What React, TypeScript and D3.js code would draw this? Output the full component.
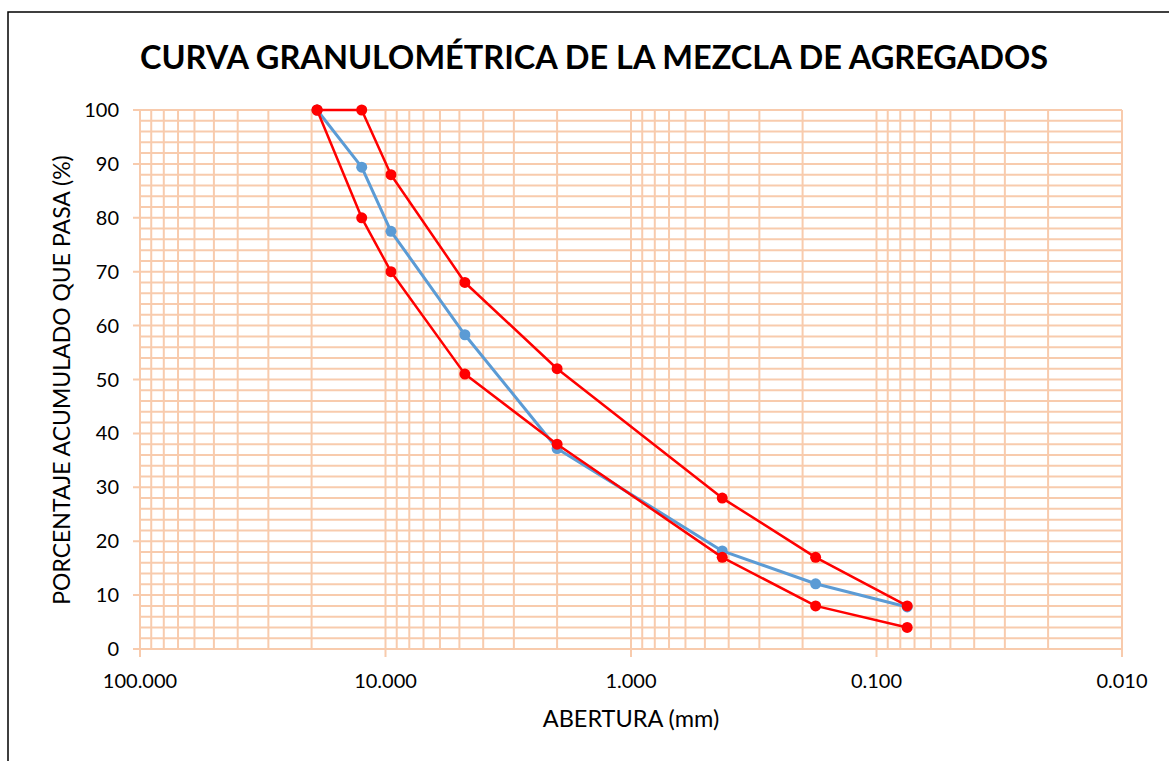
import React from "react";
import * as d3 from "d3";

const sieves = [19, 12.5, 9.5, 4.75, 2.0, 0.425, 0.177, 0.075];
const mixPassing = [100, 89.4, 77.5, 58.3, 37.2, 18.2, 12.1, 7.8];
const upperLimit = [100, 100, 88, 68, 52, 28, 17, 8];
const lowerLimit = [100, 80, 70, 51, 38, 17, 8, 4];
const xTicks = [100, 10, 1, 0.1, 0.01];
const yTicks = [0, 10, 20, 30, 40, 50, 60, 70, 80, 90, 100];

const W = 1169;
const H = 761;
const left = 140, right = 1122, top = 110, bottom = 649;
const grid = "#F8CBAD";
const font = "Lato, 'Open Sans', sans-serif";

export default function App() {
  const x = d3.scaleLog().domain([100, 0.01]).range([left, right]);
  const y = d3.scaleLinear().domain([0, 100]).range([bottom, top]);

  const vGrid: number[] = [];
  [0.01, 0.1, 1, 10].forEach((d) => {
    for (let k = 1; k <= 9; k++) vGrid.push(k * d);
  });
  vGrid.push(100);
  const hGrid = d3.range(0, 101, 2);

  const line = d3
    .line<[number, number]>()
    .x((d) => x(d[0]))
    .y((d) => y(d[1]));

  const series = [
    { vals: mixPassing, color: "#5B9BD5", w: 3, r: 5.5 },
    { vals: upperLimit, color: "#FF0000", w: 2.5, r: 5.5 },
    { vals: lowerLimit, color: "#FF0000", w: 2.5, r: 5.5 },
  ];

  const fmt = d3.format(".3f");

  return (
    <svg
      width={W}
      height={H}
      style={{ position: "fixed", left: 0, top: 0, background: "#fff" }}
    >
      <rect x={0} y={0} width={W} height={H} fill="#fff" />
      <rect x={8} y={12} width={W + 20} height={H + 40} fill="none" stroke="#000" strokeWidth={1.5} />
      <text
        x={594}
        y={69}
        textAnchor="middle"
        fontFamily={font}
        fontWeight="bold"
        fontSize={32.5}
        fill="#000"
      >
        CURVA GRANULOMÉTRICA DE LA MEZCLA DE AGREGADOS
      </text>
      <g stroke={grid} strokeWidth={2}>
        {hGrid.map((v) => (
          <line key={"h" + v} x1={v % 10 === 0 ? left - 7 : left} x2={right} y1={y(v)} y2={y(v)} />
        ))}
        {vGrid.map((v, i) => {
          const major = xTicks.some((t) => Math.abs(t - v) / t < 1e-6);
          return (
            <line key={"v" + i} x1={x(v)} x2={x(v)} y1={top} y2={major ? bottom + 8 : bottom} />
          );
        })}
      </g>
      {yTicks.map((v) => (
        <text
          key={"yt" + v}
          x={119}
          y={y(v)}
          dy="0.35em"
          textAnchor="end"
          fontFamily={font}
          fontSize={20}
          fill="#000"
        >
          {v}
        </text>
      ))}
      {xTicks.map((v) => (
        <text
          key={"xt" + v}
          x={x(v)}
          y={688}
          textAnchor="middle"
          fontFamily={font}
          fontSize={20}
          fill="#000"
        >
          {fmt(v)}
        </text>
      ))}
      <text
        x={631}
        y={727}
        textAnchor="middle"
        fontFamily={font}
        fontSize={23.5}
        fill="#000"
      >
        ABERTURA (mm)
      </text>
      <text
        transform={`translate(70, 380) rotate(-90)`}
        textAnchor="middle"
        fontFamily={font}
        fontSize={23}
        fill="#000"
      >
        PORCENTAJE ACUMULADO QUE PASA (%)
      </text>
      {series.map((s, si) => {
        const pts: [number, number][] = sieves.map((sv, i) => [sv, s.vals[i]]);
        return (
          <g key={"s" + si}>
            <path d={line(pts) || ""} fill="none" stroke={s.color} strokeWidth={s.w} strokeLinejoin="round" />
            {pts.map((p, i) => (
              <circle key={i} cx={x(p[0])} cy={y(p[1])} r={s.r} fill={s.color} />
            ))}
          </g>
        );
      })}
    </svg>
  );
}
